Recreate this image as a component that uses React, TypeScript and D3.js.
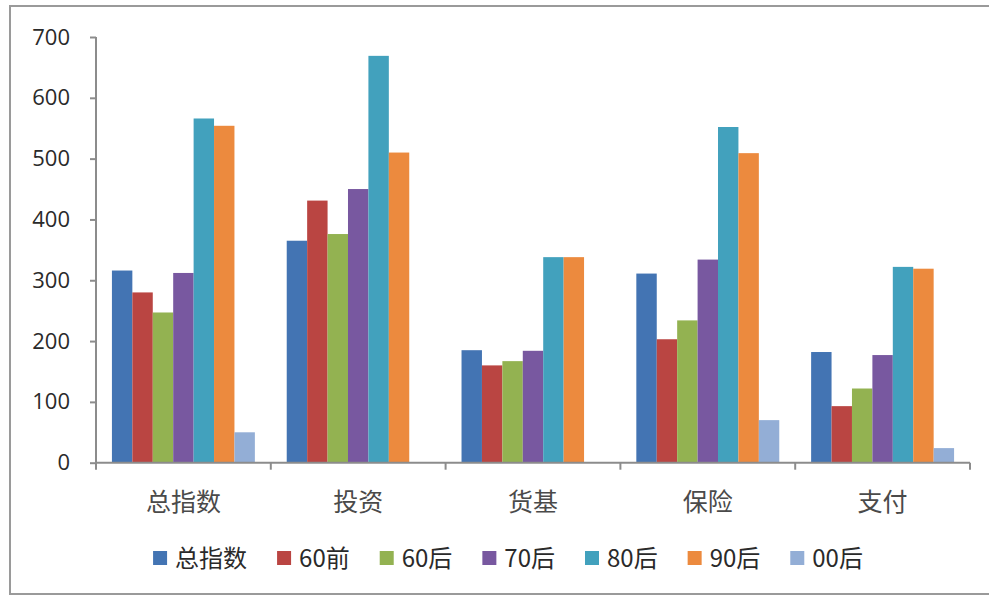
import React, { useEffect, useRef } from 'react';
import * as d3 from 'd3';

// categories on the x axis
const categories = ['总指数', '投资', '货基', '保险', '支付'];

// one series per age group, values per category
const seriesNames = ['总指数', '60前', '60后', '70后', '80后', '90后', '00后'];
const totalIndex = [316, 365, 185, 311, 182];
const before60 = [280, 431, 160, 203, 93];
const after60 = [247, 376, 167, 234, 122];
const after70 = [312, 450, 184, 334, 177];
const after80 = [566, 669, 338, 552, 322];
const after90 = [554, 510, 338, 509, 319];
const after00 = [50, 0, 0, 70, 24];

const yTicks = [0, 100, 200, 300, 400, 500, 600, 700];

const colors = ['#4374B3', '#BA4542', '#93B251', '#7858A0', '#42A1BD', '#EC8A3E', '#93AED6'];

const W = 989;
const H = 598;

function App() {
    const ref = useRef<SVGSVGElement | null>(null);

    useEffect(() => {
        const svg = d3.select(ref.current);
        svg.selectAll('*').remove();

        const values = [totalIndex, before60, after60, after70, after80, after90, after00];

        // outer frame
        svg.append('rect')
            .attr('x', 10)
            .attr('y', 6)
            .attr('width', 990)
            .attr('height', 588)
            .attr('fill', '#fff')
            .attr('stroke', '#9a9a9a')
            .attr('stroke-width', 2);

        const left = 96;
        const right = 970;
        const top = 37;
        const bottom = 462.7;

        const x0 = d3.scaleBand().domain(categories).range([left, right]).padding(0);
        const x1 = d3.scaleBand()
            .domain(seriesNames)
            .range([0, x0.bandwidth()])
            .paddingInner(0)
            .paddingOuter(0.78);
        const y = d3.scaleLinear().domain([0, 700]).range([bottom, top]);

        // bars
        const groups = svg.append('g')
            .selectAll('g')
            .data(seriesNames)
            .enter()
            .append('g')
            .attr('fill', (_, i) => colors[i]);

        groups.selectAll('rect')
            .data((_, i) => values[i].map((v, j) => ({ v, cat: categories[j], s: seriesNames[i] })))
            .enter()
            .append('rect')
            .attr('x', (d) => (x0(d.cat) as number) + (x1(d.s) as number))
            .attr('width', x1.bandwidth())
            .attr('y', (d) => y(d.v))
            .attr('height', (d) => bottom - y(d.v));

        // y axis
        const yAxis = svg.append('g')
            .attr('transform', `translate(${left},0)`)
            .call(d3.axisLeft(y).tickValues(yTicks).tickSize(6).tickPadding(20).tickFormat(d3.format('d')));
        yAxis.select('.domain').attr('stroke', '#8c8c8c').attr('stroke-width', 2).attr('d', `M0,${top}V${bottom}`);
        yAxis.selectAll('.tick line').attr('stroke', '#8c8c8c').attr('stroke-width', 2);
        yAxis.selectAll('.tick text')
            .attr('fill', '#2a2a2a')
            .style('font-family', '"Open Sans", sans-serif')
            .style('font-size', '22px');

        // x axis line and category dividers
        svg.append('line')
            .attr('x1', left).attr('x2', right)
            .attr('y1', bottom).attr('y2', bottom)
            .attr('stroke', '#8c8c8c').attr('stroke-width', 2);
        const edges = categories.map((c) => x0(c) as number).concat([right]);
        svg.append('g')
            .selectAll('line')
            .data(edges)
            .enter()
            .append('line')
            .attr('x1', (d) => d).attr('x2', (d) => d)
            .attr('y1', bottom).attr('y2', bottom + 7)
            .attr('stroke', '#8c8c8c').attr('stroke-width', 2);

        svg.append('g')
            .selectAll('text')
            .data(categories)
            .enter()
            .append('text')
            .attr('x', (d) => (x0(d) as number) + x0.bandwidth() / 2)
            .attr('y', 511)
            .attr('text-anchor', 'middle')
            .attr('fill', '#4a4a4a')
            .style('font-family', '"Noto Sans CJK SC", sans-serif')
            .style('font-size', '25px')
            .text((d) => d);

        // legend, laid out from measured text widths
        const legend = svg.append('g');
        const items = legend.selectAll('g')
            .data(seriesNames)
            .enter()
            .append('g');
        items.append('rect')
            .attr('width', 14)
            .attr('height', 14)
            .attr('y', -7)
            .attr('fill', (_, i) => colors[i]);
        items.append('text')
            .attr('x', 22)
            .attr('y', 9)
            .attr('fill', '#2a2a2a')
            .style('font-family', '"Noto Sans CJK SC", sans-serif')
            .style('font-size', '24px')
            .text((d) => d);

        let cursor = 0;
        const gap = 30;
        items.each(function () {
            const t = d3.select(this).select('text').node() as SVGTextElement;
            const w = 22 + t.getComputedTextLength();
            d3.select(this).attr('transform', `translate(${cursor},0)`);
            cursor += w + gap;
        });
        const totalW = cursor - gap;
        legend.attr('transform', `translate(${508 - totalW / 2},558)`);
    }, []);

    return (
        <svg
            ref={ref}
            width={W}
            height={H}
            style={{ position: 'absolute', left: 0, top: 0, background: '#fff' }}
        />
    );
}

export default App;
